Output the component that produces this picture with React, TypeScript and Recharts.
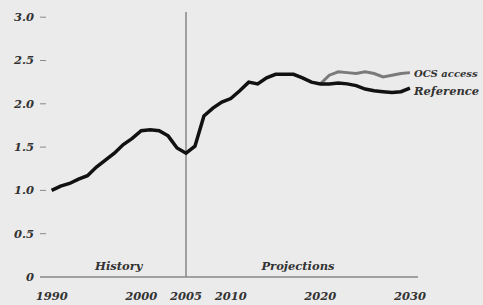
import React from "react";
import { LineChart, Line, XAxis, YAxis, ReferenceLine, ReferenceArea } from "recharts";

const years = [
  1990, 1991, 1992, 1993, 1994, 1995, 1996, 1997, 1998, 1999,
  2000, 2001, 2002, 2003, 2004, 2005, 2006, 2007, 2008, 2009,
  2010, 2011, 2012, 2013, 2014, 2015, 2016, 2017, 2018, 2019,
  2020, 2021, 2022, 2023, 2024, 2025, 2026, 2027, 2028, 2029, 2030,
];
const reference = [
  1.0, 1.05, 1.08, 1.13, 1.17, 1.27, 1.35, 1.43, 1.53, 1.6,
  1.69, 1.7, 1.69, 1.63, 1.49, 1.43, 1.51, 1.86, 1.95, 2.02,
  2.06, 2.15, 2.25, 2.23, 2.3, 2.34, 2.34, 2.34, 2.3, 2.25,
  2.23, 2.23, 2.24, 2.23, 2.21, 2.17, 2.15, 2.14, 2.13, 2.14, 2.18,
];
const ocsAccess: (number | null)[] = [
  null, null, null, null, null, null, null, null, null, null,
  null, null, null, null, null, null, null, null, null, null,
  null, null, null, null, null, null, null, null, null, null,
  2.23, 2.33, 2.37, 2.36, 2.35, 2.37, 2.35, 2.31, 2.33, 2.35, 2.36,
];
const xTicks = [1990, 2000, 2005, 2010, 2020, 2030];
const yTicks = [0, 0.5, 1.0, 1.5, 2.0, 2.5, 3.0];
const seriesNames = { reference: "Reference", ocs: "OCS access" };
const eraLabels = { history: "History", projections: "Projections" };

const data = years.map((y, i) => ({ year: y, reference: reference[i], ocs: ocsAccess[i] }));

const FONT = "'DejaVu Serif', 'Liberation Serif', serif";
const TEXT = "#333";

const YTick = (props: any) => {
  const { y, payload } = props;
  const v = payload.value as number;
  const label = v === 0 ? "0" : v.toFixed(1);
  return (
    <g>
      <text x={34} y={y} dy={4} textAnchor="end" fontFamily={FONT} fontStyle="italic" fontWeight="bold" fontSize={11.5} fill={TEXT}>
        {label}
      </text>
      {v !== 0 && <line x1={40} x2={46} y1={y} y2={y} stroke="#888" strokeWidth={1} />}
    </g>
  );
};

const XTick = (props: any) => {
  const { x, y, payload } = props;
  return (
    <text x={x} y={y} dy={15} textAnchor="middle" fontFamily={FONT} fontStyle="italic" fontWeight="bold" fontSize={11.5} fill={TEXT}>
      {payload.value}
    </text>
  );
};

const endLabel = (name: string, dy: number, size: number) => (props: any) => {
  const { x, y, index } = props;
  if (index !== years.length - 1) return null;
  return (
    <text x={x + 4} y={y + dy} dy={4} fontFamily={FONT} fontStyle="italic" fontWeight="bold" fontSize={size} fill={TEXT}>
      {name}
    </text>
  );
};

const eraStyle = { fontFamily: FONT, fontStyle: "italic", fontWeight: "bold", fontSize: 11.5, fill: TEXT };

export default function App() {
  return (
    <div style={{ position: "absolute", left: 0, top: 0, width: 483, height: 305, background: "#ebebeb" }}>
      <LineChart width={483} height={305} data={data} margin={{ top: 12, right: 65, left: 0, bottom: 0 }}>
        <XAxis
          dataKey="year"
          type="number"
          domain={[1988.7, 2030.9]}
          ticks={xTicks}
          tickLine={false}
          axisLine={{ stroke: "#888", strokeWidth: 1.5 }}
          tick={<XTick />}
          height={28}
          allowDataOverflow
        />
        <YAxis
          type="number"
          domain={[0, 3.06]}
          ticks={yTicks}
          axisLine={false}
          tickLine={false}
          tick={<YTick />}
          width={40}
          allowDataOverflow
        />
        <ReferenceArea x1={1990} x2={2005} y1={0} y2={0.3} fill="none" stroke="none"
          label={{ value: eraLabels.history, position: "insideBottom", offset: 7, ...eraStyle }} />
        <ReferenceArea x1={2005} x2={2030} y1={0} y2={0.3} fill="none" stroke="none"
          label={{ value: eraLabels.projections, position: "insideBottom", offset: 7, ...eraStyle }} />
        <ReferenceLine x={2005} stroke="#555" strokeWidth={1} />
        <Line dataKey="ocs" stroke="#7a7a7a" strokeWidth={3} dot={false} isAnimationActive={false}
          label={endLabel(seriesNames.ocs, 0, 10)} connectNulls={false} />
        <Line dataKey="reference" stroke="#111" strokeWidth={3.5} dot={false} isAnimationActive={false}
          label={endLabel(seriesNames.reference, 3, 11.5)} />
      </LineChart>
    </div>
  );
}
